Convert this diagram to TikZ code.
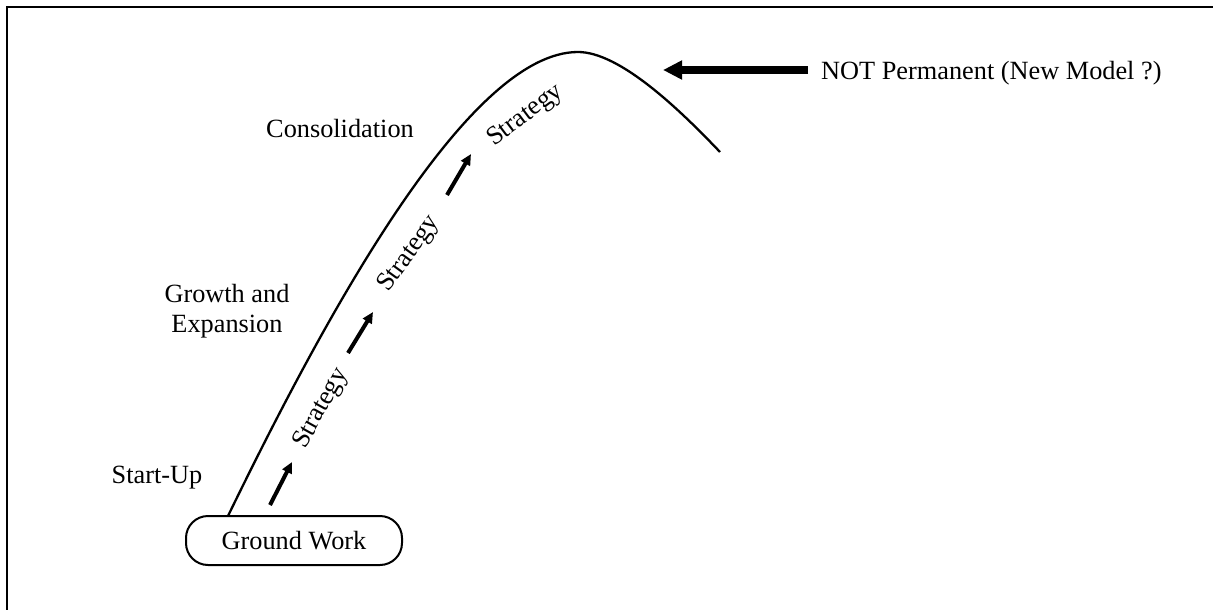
\documentclass[tikz,border=0pt]{standalone}
\usepackage{fontspec}
\setmainfont{Liberation Serif}
\usetikzlibrary{arrows.meta}
\begin{document}
\begin{tikzpicture}[x=1pt,y=-1pt,
  lbl/.style={font=\fontsize{26.3}{30}\selectfont, inner sep=0pt},
  curveline/.style={line width=2.3pt},
  stratarrow/.style={line width=4pt, -{Triangle[length=11pt,width=10pt]}},
  bigarrow/.style={line width=8pt, -{Triangle[length=19pt,width=18pt]}},
  stagebox/.style={draw, line width=2pt, rounded corners=22pt,
    minimum width=216pt, minimum height=49pt,
    font=\fontsize{26.3}{30}\selectfont, inner sep=0pt}]
\useasboundingbox (0,0) rectangle (1213,610);
\clip (0,0) rectangle (1213,610);
% outer frame (right and bottom edges run off the page)
\draw[line width=2.5pt] (7,7) rectangle (1240,640);

% base box
\node[stagebox] (gw) at (294,540.5) {Ground Work};

% life-cycle curve
\coordinate (c0) at (228,516);
\coordinate (peak) at (578,52);
\coordinate (cend) at (720,152);
\draw[curveline] (c0) .. controls (330,306) and (470,52) .. (peak)
  .. controls (620,52) and (680,110) .. (cend);

% stage labels
\node[lbl, anchor=base] (startup) at (157,483) {Start-Up};
\node[lbl, anchor=base, align=center] (growth) at (227,332) {Growth and\\Expansion};
\node[lbl, anchor=base] (consol) at (340,137) {Consolidation};

% strategy steps
\coordinate (a1s) at (270,505); \coordinate (a1e) at (292,462);
\coordinate (a2s) at (348,353); \coordinate (a2e) at (373,312);
\coordinate (a3s) at (447,195); \coordinate (a3e) at (471,154);
\draw[stratarrow] (a1s) -- (a1e);
\draw[stratarrow] (a2s) -- (a2e);
\draw[stratarrow] (a3s) -- (a3e);
\node[lbl, anchor=base west, rotate=61] (s1) at (305,450) {Strategy};
\node[lbl, anchor=base west, rotate=54] (s2) at (388,293) {Strategy};
\node[lbl, anchor=base west, rotate=37] (s3) at (494,147) {Strategy};

% note on the peak
\node[lbl, anchor=base west] (np) at (821,80) {NOT Permanent (New Model ?)};
\coordinate (tip) at (663,70);
\draw[bigarrow] (np.west |- tip) ++(-13pt,0) -- (tip);
\end{tikzpicture}
\end{document}
